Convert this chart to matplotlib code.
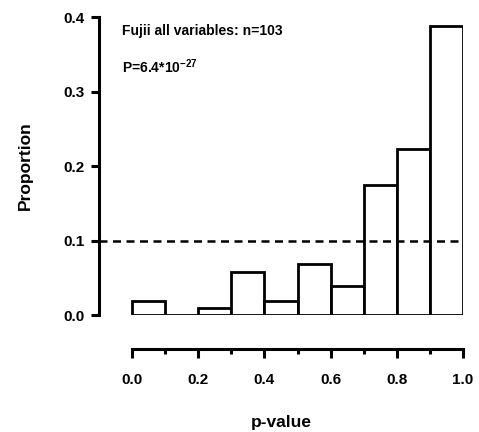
import numpy as np
import matplotlib
matplotlib.use('Agg')
import matplotlib.pyplot as plt

# counts of p-values per 0.1 bin (n = 103)
bin_edges = [0.0, 0.1, 0.2, 0.3, 0.4, 0.5, 0.6, 0.7, 0.8, 0.9, 1.0]
bin_counts = [2, 0, 1, 6, 2, 7, 4, 18, 23, 40]
n_total = 103
uniform_level = 0.1

x_major = [0.0, 0.2, 0.4, 0.6, 0.8, 1.0]
x_minor = [0.1, 0.3, 0.5, 0.7, 0.9]
y_ticks = [0.0, 0.1, 0.2, 0.3, 0.4]

plt.rcParams['font.family'] = ['Liberation Sans', 'DejaVu Sans']
plt.rcParams['font.weight'] = 'bold'
plt.rcParams['mathtext.fontset'] = 'custom'
plt.rcParams['mathtext.bf'] = 'Liberation Sans:bold'

proportions = np.array(bin_counts) / n_total
lefts = np.array(bin_edges[:-1])
widths = np.diff(bin_edges)

fig = plt.figure(figsize=(4.79, 4.32), dpi=100)
ax = fig.add_axes([0.2067, 0.2708, 0.7599, 0.6898])

ax.bar(lefts, proportions, width=widths, align='edge',
       facecolor='white', edgecolor='black', linewidth=2)
ax.axhline(uniform_level, color='black', linestyle=(0, (3.2, 2.2)), linewidth=1.8)

ax.set_xlim(-0.1, 1.0)
ax.set_ylim(0, 0.4)

for side in ['top', 'right']:
    ax.spines[side].set_visible(False)
ax.spines['left'].set_linewidth(2.2)
ax.spines['bottom'].set_linewidth(2.2)
ax.spines['left'].set_bounds(0, 0.4)
ax.spines['bottom'].set_bounds(0, 1.0)
ax.spines['bottom'].set_position(('outward', 24.5))

ax.set_xticks(x_major)
ax.set_xticklabels(['%.1f' % v for v in x_major])
ax.set_xticks(x_minor, minor=True)
ax.set_yticks(y_ticks)
ax.set_yticklabels(['%.1f' % v for v in y_ticks])
ax.tick_params(axis='x', which='major', length=6.5, width=2.2, labelsize=11, pad=11)
ax.tick_params(axis='x', which='minor', length=3.8, width=2.2)
ax.tick_params(axis='y', which='major', length=5.5, width=2.2, labelsize=11, pad=5)

ax.set_xlabel('p-value', fontsize=12.5, fontweight='bold', labelpad=20)
ax.set_ylabel('Proportion', fontsize=12.5, fontweight='bold', labelpad=22)

ax.text(-0.03, 0.381, 'Fujii all variables: n=103', fontsize=10, fontweight='bold',
        va='center', ha='left')
ax.text(-0.03, 0.333, r'P=6.4*10$^{\mathbf{-27}}$', fontsize=10, fontweight='bold',
        va='center', ha='left')

fig.savefig('out.png', dpi=100)
